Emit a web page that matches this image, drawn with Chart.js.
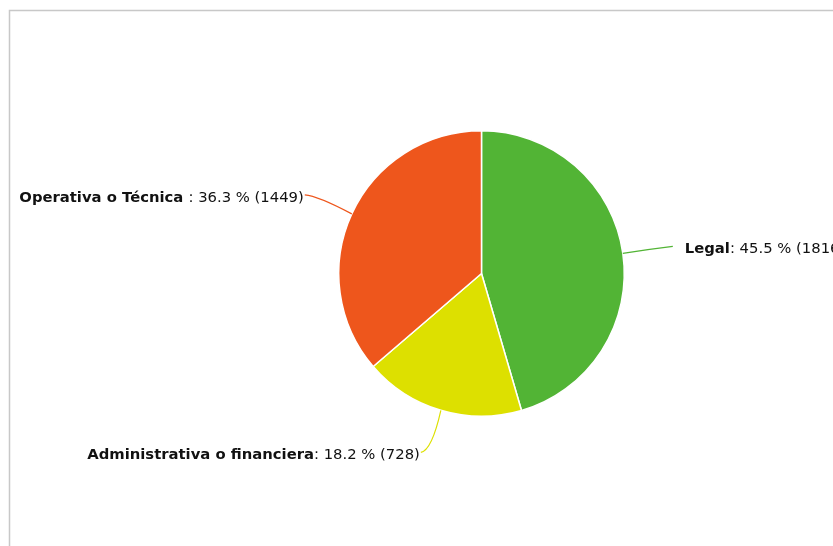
<!DOCTYPE html>
<html>
<head>
<meta charset="utf-8">
<script src="https://cdn.jsdelivr.net/npm/chart.js@4"></script>
<style>
    html, body { margin: 0; padding: 0; background: #fff; }
    #wrap { width: 833px; height: 546px; position: relative; }
</style>
</head>
<body>
<div id="wrap"><canvas id="pieChart" width="833" height="546"></canvas></div>
<script>
// --- DATA ---
const categories = ['Legal', 'Administrativa o financiera', 'Operativa o Técnica '];
const values = [1816, 728, 1449];
const colors = ['#52b435', '#dde000', '#ee561c'];

const total = values.reduce((a, b) => a + b, 0);
const FONT = '"DejaVu Sans", sans-serif';
const FSIZE = 14.8;

// frame lines (top and left edge of the panel)
const framePlugin = {
    id: 'frame',
    beforeDraw(chart) {
        const c = chart.ctx;
        c.save();
        c.strokeStyle = '#c8c8c8';
        c.lineWidth = 1.5;
        c.beginPath();
        c.moveTo(9.5, 546);
        c.lineTo(9.5, 10.5);
        c.lineTo(833, 10.5);
        c.stroke();
        c.restore();
    }
};

// labels with connector lines
const labelPlugin = {
    id: 'pieLabels',
    afterDraw(chart) {
        const c = chart.ctx;
        const arcs = chart.getDatasetMeta(0).data;
        // control point and end point of each guide line, relative to the slice edge point
        const guides = [
            { cx: 25, cy: -4, ex: 50, ey: -7, side: 'right' },
            { cx: -9, cy: 40, ex: -20, ey: 42, side: 'left' },
            { cx: -34, cy: -18, ex: -47, ey: -19, side: 'left' }
        ];
        arcs.forEach((arc, i) => {
            const p = arc.getProps(['x', 'y', 'startAngle', 'endAngle', 'outerRadius'], true);
            const mid = (p.startAngle + p.endAngle) / 2;
            const sx = p.x + Math.cos(mid) * p.outerRadius;
            const sy = p.y + Math.sin(mid) * p.outerRadius;
            const g = guides[i];
            const ex = sx + g.ex, ey = sy + g.ey;

            c.save();
            c.strokeStyle = colors[i];
            c.lineWidth = 1.2;
            c.beginPath();
            c.moveTo(sx, sy);
            c.quadraticCurveTo(sx + g.cx, sy + g.cy, ex, ey);
            c.stroke();

            const name = categories[i];
            const rest = ': ' + (values[i] / total * 100).toFixed(1) + ' % (' + values[i] + ')';
            c.textBaseline = 'middle';
            c.fillStyle = '#111';
            c.font = 'bold ' + FSIZE + 'px ' + FONT;
            const wName = c.measureText(name).width;
            c.font = FSIZE + 'px ' + FONT;
            const wRest = c.measureText(rest).width;
            let tx = g.side === 'right' ? ex + 12 : ex - 1 - wName - wRest;
            const ty = ey + 3;
            c.font = 'bold ' + FSIZE + 'px ' + FONT;
            c.fillText(name, tx, ty);
            c.font = FSIZE + 'px ' + FONT;
            c.fillText(rest, tx + wName, ty);
            c.restore();
        });
    }
};

new Chart(document.getElementById('pieChart'), {
    type: 'pie',
    data: {
        labels: categories,
        datasets: [{
            data: values,
            backgroundColor: colors,
            borderColor: '#ffffff',
            borderWidth: 1.5
        }]
    },
    options: {
        responsive: false,
        animation: false,
        layout: { padding: { top: 130, bottom: 129, left: 338, right: 208 } },
        plugins: {
            legend: { display: false },
            tooltip: { enabled: false }
        }
    },
    plugins: [framePlugin, labelPlugin]
});
</script>
</body>
</html>
